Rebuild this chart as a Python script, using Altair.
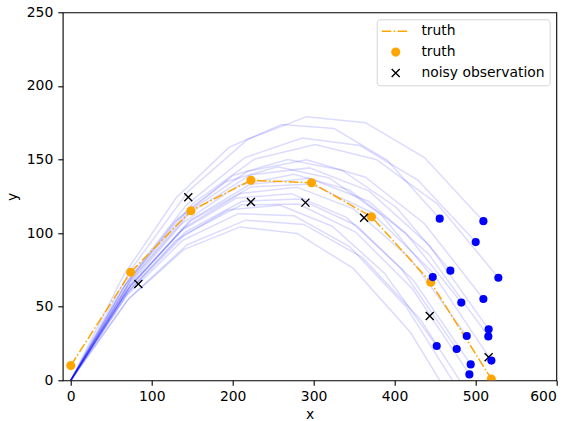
import altair as alt
import pandas as pd

# ---- data ----
truth_x = [0, 74.0, 148.5, 222.6, 297.5, 371.6, 444.8, 519.7]
truth_y = [10, 73.4, 115.2, 135.9, 134.2, 111.1, 66.6, 0.9]

obs_x = [83.5, 145.2, 222.6, 290.0, 362.5, 443.6, 516.4]
obs_y = [65.4, 124.3, 121.1, 120.7, 110.5, 43.7, 15.6]

blue_x = [509.9, 455.9, 500.4, 528.4, 469.1, 447.3, 509.9, 482.6,
          516.4, 516.0, 489.3, 452.2, 476.9, 519.8, 494.2, 492.6]
blue_y = [108.1, 109.8, 93.9, 69.7, 74.5, 70.1, 55.2, 52.8,
          34.6, 29.8, 30.1, 23.3, 21.3, 13.4, 10.8, 4.0]

particle_x = [
    [0, 72.8, 145.7, 218.5, 291.4, 364.2, 437.1, 509.9],
    [0, 65.1, 130.3, 195.4, 260.5, 325.6, 390.8, 455.9],
    [0, 71.5, 143.0, 214.5, 285.9, 357.4, 428.9, 500.4],
    [0, 75.5, 151.0, 226.5, 301.9, 377.4, 452.9, 528.4],
    [0, 67.0, 134.0, 201.0, 268.1, 335.1, 402.1, 469.1],
    [0, 63.9, 127.8, 191.7, 255.6, 319.5, 383.4, 447.3],
    [0, 72.8, 145.7, 218.5, 291.4, 364.2, 437.1, 509.9],
    [0, 68.9, 137.9, 206.8, 275.8, 344.7, 413.7, 482.6],
    [0, 73.8, 147.5, 221.3, 295.1, 368.9, 442.6, 516.4],
    [0, 73.7, 147.4, 221.1, 294.9, 368.6, 442.3, 516.0],
    [0, 69.9, 139.8, 209.7, 279.6, 349.5, 419.4, 489.3],
    [0, 64.6, 129.2, 193.8, 258.4, 323.0, 387.6, 452.2],
    [0, 68.1, 136.3, 204.4, 272.5, 340.6, 408.8, 476.9],
    [0, 74.3, 148.5, 222.8, 297.0, 371.3, 445.5, 519.8],
    [0, 70.6, 141.2, 211.8, 282.4, 353.0, 423.6, 494.2],
    [0, 70.4, 140.7, 211.1, 281.5, 351.9, 422.2, 492.6],
    [0, 69.6, 140.2, 209.5, 279.8, 349.1, 419.7, 489.4],
    [0, 72.1, 143.8, 216.2, 287.9, 360.3, 431.8, 504.1],
    [0, 68.8, 138.1, 206.9, 276.2, 344.8, 414.1, 483.0],
]
particle_y = [
    [0, 74.1, 128.7, 163.7, 179.1, 175.0, 151.3, 108.1],
    [0, 71.2, 124.0, 158.2, 173.8, 171.0, 149.6, 109.8],
    [0, 68.9, 119.2, 151.1, 164.6, 159.5, 136.0, 93.9],
    [0, 70.1, 120.1, 150.1, 160.1, 150.0, 119.9, 69.7],
    [0, 64.4, 110.8, 139.3, 150.0, 142.7, 117.6, 74.5],
    [0, 62.5, 107.4, 134.9, 145.0, 137.5, 112.6, 70.1],
    [0, 67.0, 114.4, 142.0, 149.8, 138.0, 106.4, 55.2],
    [0, 62.5, 106.6, 132.4, 140.0, 129.2, 100.2, 52.8],
    [0, 67.2, 113.7, 139.4, 144.3, 128.5, 91.9, 34.6],
    [0, 64.4, 108.7, 133.0, 137.3, 121.5, 85.7, 29.8],
    [0, 61.3, 103.6, 126.9, 131.2, 116.5, 82.8, 30.1],
    [0, 56.2, 94.8, 115.7, 119.0, 104.7, 72.8, 23.3],
    [0, 60.4, 101.6, 123.7, 126.8, 110.7, 75.6, 21.3],
    [0, 64.7, 108.5, 131.4, 133.3, 114.2, 74.3, 13.4],
    [0, 60.1, 100.6, 121.6, 123.2, 105.2, 67.8, 10.8],
    [0, 59.3, 99.0, 119.2, 119.8, 100.7, 62.2, 4.0],
    [0, 54.2, 89.0, 104.2, 99.8, 76.0, 32.6, -30.2],
    [0, 55.8, 92.1, 108.8, 105.9, 83.5, 41.5, -20.0],
    [0, 57.3, 95.0, 113.2, 111.8, 90.7, 50.2, -10.0],
]

x_ticks = [0, 100, 200, 300, 400, 500, 600]
y_ticks = [0, 50, 100, 150, 200, 250]

legend_labels = ["truth ", "truth", "noisy observation"]
legend_colors = ["orange", "orange", "black"]

# symbol shapes (unit square scaled by sqrt(size)/2 = 14 px)
LINE_PATH = ("M-1,-0.054H-0.314V0.054H-1Z "
             "M-0.143,-0.054H-0.036V0.054H-0.143Z "
             "M0.136,-0.054H0.821V0.054H0.136Z")
CIRCLE_PATH = "M0.325,0A0.325,0.325,0,1,1,-0.325,0A0.325,0.325,0,1,1,0.325,0Z"
X_PATH = ("M-0.251,-0.321L0.321,0.251L0.251,0.321L-0.321,-0.251Z "
          "M-0.321,0.251L0.251,-0.321L0.321,-0.251L-0.251,0.321Z")
legend_shapes = [LINE_PATH, CIRCLE_PATH, X_PATH]

# ---- tables ----
rows = []
for i, (xs_, ys_) in enumerate(zip(particle_x, particle_y)):
    for k, (xv, yv) in enumerate(zip(xs_, ys_)):
        rows.append({"particle": i, "step": k, "x": xv, "y": yv})
lines_df = pd.DataFrame(rows)
truth_df = pd.DataFrame({"x": truth_x, "y": truth_y, "step": list(range(len(truth_x)))})
pts_df = pd.concat([
    pd.DataFrame({"x": truth_x, "y": truth_y, "series": "truth"}),
    pd.DataFrame({"x": obs_x, "y": obs_y, "series": "noisy observation"}),
], ignore_index=True)
dots_df = pd.DataFrame({"x": blue_x, "y": blue_y})

xscale = alt.Scale(domain=[-10, 600], nice=False, zero=False)
yscale = alt.Scale(domain=[0, 250], nice=False, zero=False)
X = alt.X("x:Q", scale=xscale, axis=alt.Axis(values=x_ticks, title="x", labelPadding=4, titlePadding=4))
Y = alt.Y("y:Q", scale=yscale, axis=alt.Axis(values=y_ticks, title="y", labelPadding=5, titlePadding=7))

particles = alt.Chart(lines_df).mark_line(
    color="blue", opacity=0.14, strokeWidth=1.5, clip=True
).encode(x=X, y=Y, detail="particle:N", order="step:Q")

truth_line = alt.Chart(truth_df).mark_line(
    color="orange", strokeWidth=1.5, strokeDash=[9.6, 2.4, 1.5, 2.4], clip=True
).encode(x=X, y=Y, order="step:Q")

points = alt.Chart(pts_df).mark_point(
    filled=True, opacity=1, size=784, strokeWidth=0, clip=True
).encode(
    x=X, y=Y,
    color=alt.Color("series:N", scale=alt.Scale(domain=legend_labels, range=legend_colors),
                    legend=alt.Legend(title=None)),
    shape=alt.Shape("series:N", scale=alt.Scale(domain=legend_labels, range=legend_shapes),
                    legend=alt.Legend(title=None)),
)

dots = alt.Chart(dots_df).mark_circle(
    color="blue", size=66, opacity=1, clip=True
).encode(x=X, y=Y)

chart = alt.layer(particles, truth_line, points, dots).properties(
    width=493.6, height=368,
    autosize=alt.AutoSizeParams(type="none"),
    padding={"left": 62.7, "top": 12.3, "right": 14.7, "bottom": 40.7},
    background="white",
).configure_view(
    stroke="black", strokeWidth=1.1
).configure_axis(
    domain=False, grid=False, tickColor="black", tickWidth=1.1, tickSize=4.9,
    labelFont="DejaVu Sans", labelFontSize=13.9, labelColor="black",
    titleFont="DejaVu Sans", titleFontSize=13.9, titleFontWeight="normal", titleColor="black",
).configure_legend(
    orient="top-right", offset=7, padding=5, strokeColor="#d5d5d5", fillColor="white",
    cornerRadius=3, labelFont="DejaVu Sans", labelFontSize=13.9, labelColor="black",
    symbolSize=784, clipHeight=14, rowPadding=6.8, labelOffset=11.7,
    symbolStrokeWidth=0, symbolOpacity=1,
)

chart.save("out.html", embed_options={"renderer": "svg", "actions": False})
